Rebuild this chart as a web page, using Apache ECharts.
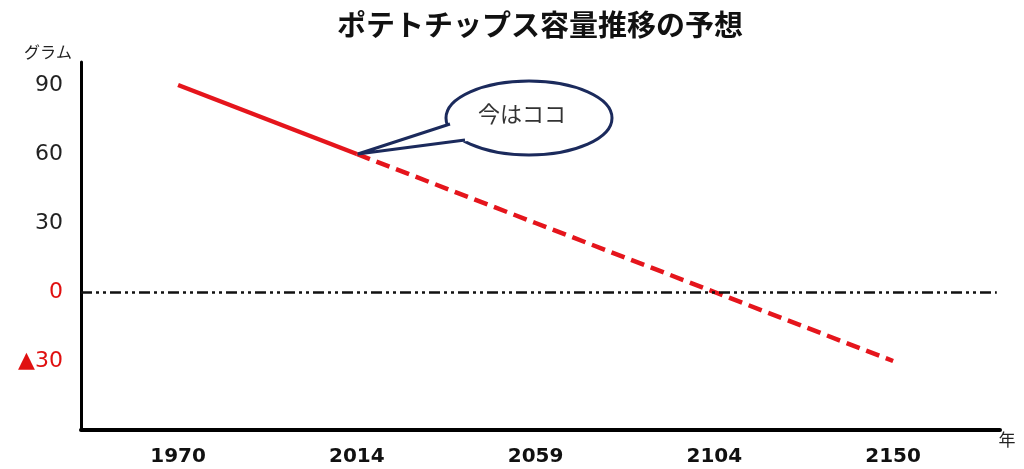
<!DOCTYPE html>
<html>
<head>
<meta charset="utf-8">
<script src="https://cdn.jsdelivr.net/npm/echarts@6/dist/echarts.min.js"></script>
<style>html,body{margin:0;padding:0;background:#fff;}#c{width:1024px;height:469px;}</style>
</head>
<body>
<div id="c"></div>
<script>
const years = ['1970', '2014', '2059', '2104', '2150'];
const actualValues = [90, 60, null, null, null];
const forecastValues = [null, 60, 30, 0, -30];
const yTickValues = [-30, 0, 30, 60, 90];
const titleText = 'ポテトチップス容量推移の予想';
const yName = 'グラム';
const xName = '年';
const calloutText = '今はココ';

const chart = echarts.init(document.getElementById('c'), null, {renderer: 'canvas'});
const idx = years.map((_, i) => i);
const toPairs = arr => arr.map((v, i) => [i, v]);

const option = {
  animation: false,
  backgroundColor: '#fff',
  title: {
    text: titleText, left: 535, top: 5, textAlign: 'center',
    textStyle: {fontFamily: 'Noto Sans CJK JP', fontWeight: 'bold', fontSize: 29, color: '#111'}
  },
  grid: {left: 81, right: 24, top: 62, bottom: 39, containLabel: false},
  xAxis: {
    type: 'value', min: -0.543, max: 4.598,
    axisLine: {show: true, onZero: false, lineStyle: {color: '#000', width: 4}},
    axisTick: {show: false},
    splitLine: {show: false},
    axisLabel: {
      customValues: idx, margin: 17,
      formatter: v => years[Math.round(v)],
      fontFamily: 'DejaVu Sans', fontWeight: 'bold', fontSize: 20, color: '#111'
    }
  },
  yAxis: {
    type: 'value', min: -60, max: 100,
    axisLine: {show: true, onZero: false, lineStyle: {color: '#000', width: 3}},
    axisTick: {show: false},
    splitLine: {show: false},
    axisLabel: {
      customValues: yTickValues, margin: 18,
      formatter: v => v === 0 ? '{r|0}' : (v < 0 ? '{r|▲' + Math.abs(v) + '}' : String(v)),
      fontFamily: 'DejaVu Sans', fontSize: 22, color: '#222',
      rich: {r: {color: '#e01010', fontFamily: 'DejaVu Sans', fontSize: 22}}
    }
  },
  series: [
    {
      type: 'line', data: toPairs(actualValues), showSymbol: false, connectNulls: false,
      lineStyle: {color: '#e5151c', width: 4.5}, z: 3,
      markLine: {
        silent: true, symbol: 'none', label: {show: false},
        lineStyle: {color: '#111', width: 2.5, type: [11, 4, 3, 4, 3, 4]},
        data: [[{coord: [-0.543, 0]}, {coord: [4.58, 0]}]]
      }
    },
    {
      type: 'line', data: toPairs(forecastValues), showSymbol: false, connectNulls: false,
      lineStyle: {color: '#e5151c', width: 4.5, type: [14, 7]}, z: 3
    }
  ],
  graphic: []
};
chart.setOption(option);

const tip = chart.convertToPixel({gridIndex: 0}, [1, 60]);
const cx = 529, cy = 118, rx = 83, ry = 37;
const navy = '#1b2a5c';
chart.setOption({
  graphic: [
    {type: 'ellipse', shape: {cx: cx, cy: cy, rx: rx, ry: ry}, style: {fill: '#fff', stroke: navy, lineWidth: 3}, z: 10},
    {type: 'polygon', shape: {points: [[tip[0] + 1, tip[1]], [453, 124], [468, 141]]}, style: {fill: '#fff'}, z: 11},
    {type: 'polyline', shape: {points: [[450, 124], [tip[0] + 1, tip[1]], [465, 140]]}, style: {fill: null, stroke: navy, lineWidth: 3}, z: 12},
    {type: 'text', x: 522, y: 114, style: {text: calloutText, fontFamily: 'Noto Sans CJK JP', fontSize: 22, fill: '#333', align: 'center', verticalAlign: 'middle'}, z: 13},
    {type: 'text', x: 48, y: 52, style: {text: yName, fontFamily: 'Noto Sans CJK JP', fontSize: 16, fill: '#222', align: 'center', verticalAlign: 'middle'}, z: 13},
    {type: 'text', x: 1007, y: 440, style: {text: xName, fontFamily: 'Noto Sans CJK JP', fontSize: 17, fill: '#222', align: 'center', verticalAlign: 'middle'}, z: 13}
  ]
});
</script>
</body>
</html>
